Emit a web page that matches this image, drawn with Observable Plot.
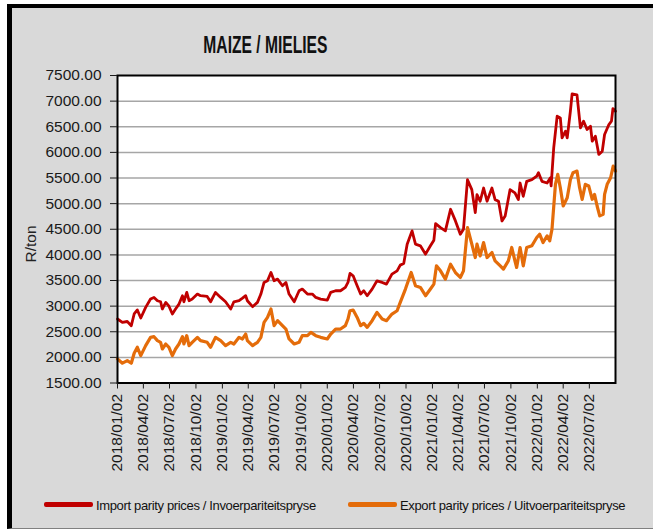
<!DOCTYPE html>
<html>
<head>
<meta charset="utf-8">
<script src="https://cdn.jsdelivr.net/npm/d3@7"></script>
<script src="https://cdn.jsdelivr.net/npm/@observablehq/plot@0.6"></script>
<style>
  html, body { margin: 0; padding: 0; background: #ffffff; }
  body { width: 653px; height: 531px; position: relative; overflow: hidden; font-family: 'Liberation Sans', Arial, sans-serif; }
  #bg { position: absolute; left: 7px; top: 4px; width: 646px; height: 525px; background: #d9d9d9;
        border-left: 5px solid #000; border-top: 4px solid #000; border-bottom: 1px solid #808080; box-sizing: border-box; }
  #chart { position: absolute; left: 0; top: 0; }
  #title { position: absolute; left: 0; top: 32.5px; width: 530px; text-align: center; line-height: 24px; }
  #title span { display: inline-block; font-weight: bold; font-size: 24px; color: #111; transform: scaleX(0.65); transform-origin: center; white-space: nowrap; }
  #ylabel { position: absolute; left: 31px; top: 244px; font-size: 15.5px; color: #222; transform: translate(-50%, -50%) rotate(-90deg); white-space: nowrap; }
  .leg-line { position: absolute; height: 5px; }
  .leg-text { position: absolute; font-size: 13px; line-height: 13px; color: #111; white-space: nowrap; letter-spacing: -0.35px; }
</style>
</head>
<body>
<div id="bg"></div>
<div id="chart"></div>
<div id="title"><span>MAIZE / MIELIES</span></div>
<div id="ylabel">R/ton</div>
<div id="legend"></div>
<script>
// ---- Data ----
const seriesNames = ["Import parity prices / Invoerpariteitspryse", "Export parity prices / Uitvoerpariteitspryse"];
const seriesColors = ["#c00000", "#e46c0a"];

const yTicks = [1500, 2000, 2500, 3000, 3500, 4000, 4500, 5000, 5500, 6000, 6500, 7000, 7500];
const gridValues = [2000, 2500, 3000, 3500, 4000, 4500, 5000, 5500, 6000, 6500, 7000];
const xTickLabels = ["2018/01/02","2018/04/02","2018/07/02","2018/10/02","2019/01/02","2019/04/02","2019/07/02",
  "2019/10/02","2020/01/02","2020/04/02","2020/07/02","2020/10/02","2021/01/02","2021/04/02","2021/07/02",
  "2021/10/02","2022/01/02","2022/04/02","2022/07/02"];
const xDomain = ["2018-01-02", "2022-10-01"];

const importDates = ["2018-01-02","2018-01-19","2018-02-05","2018-02-19","2018-03-01","2018-03-12","2018-03-24","2018-04-10",
  "2018-04-27","2018-05-09","2018-05-21","2018-06-01","2018-06-07","2018-06-19","2018-06-30","2018-07-12","2018-07-23",
  "2018-08-04","2018-08-16","2018-08-21","2018-08-31","2018-09-08","2018-09-19","2018-10-07","2018-10-18","2018-11-10",
  "2018-11-22","2018-12-09","2018-12-27","2019-01-13","2019-01-31","2019-02-11","2019-03-01","2019-03-13","2019-03-24",
  "2019-03-30","2019-04-17","2019-05-04","2019-05-16","2019-05-27","2019-06-08","2019-06-20","2019-07-01","2019-07-13",
  "2019-07-30","2019-08-11","2019-08-22","2019-09-09","2019-09-26","2019-10-07","2019-10-25","2019-11-11","2019-11-23",
  "2019-12-10","2020-01-02","2020-01-14","2020-01-31","2020-02-17","2020-03-05","2020-03-14","2020-03-21","2020-04-01",
  "2020-04-15","2020-04-27","2020-05-08","2020-05-20","2020-06-06","2020-06-23","2020-07-11","2020-07-26","2020-08-14",
  "2020-09-01","2020-09-12","2020-09-24","2020-10-06","2020-10-23","2020-11-04","2020-11-21","2020-12-09","2020-12-26",
  "2021-01-07","2021-01-13","2021-01-30","2021-02-16","2021-03-06","2021-03-23","2021-04-09","2021-04-20","2021-05-04",
  "2021-05-19","2021-05-31","2021-06-06","2021-06-17","2021-06-29","2021-07-11","2021-07-28","2021-08-08","2021-08-20",
  "2021-09-01","2021-09-12","2021-09-29","2021-10-16","2021-10-28","2021-11-03","2021-11-14","2021-11-26","2021-12-14",
  "2021-12-31","2022-01-06","2022-01-18","2022-02-05","2022-02-16","2022-02-19","2022-02-28","2022-03-12","2022-03-23",
  "2022-03-29","2022-04-10","2022-04-16","2022-04-27","2022-05-03","2022-05-20","2022-06-01","2022-06-12","2022-06-24",
  "2022-07-06","2022-07-12","2022-07-23","2022-08-04","2022-08-16","2022-08-24","2022-09-08","2022-09-17","2022-09-22",
  "2022-10-01"];
const importVals = [2749,2683,2700,2619,2847,2925,2769,2975,
  3138,3170,3105,3085,2944,3073,2998,2847,2944,
  3040,3203,3085,3267,3105,3138,3235,3203,3190,
  3085,3267,3170,3085,2944,3085,3105,3155,3203,
  3105,2989,3073,3235,3462,3494,3656,3494,3527,
  3397,3462,3235,3085,3300,3332,3235,3235,3170,
  3138,3118,3267,3300,3300,3365,3462,3637,3592,
  3397,3235,3300,3203,3332,3494,3462,3429,3624,
  3689,3800,3831,4209,4468,4209,4177,4014,4177,
  4287,4610,4533,4468,4890,4663,4403,4500,5467,
  5273,4824,5176,5046,5305,5046,5305,5078,5046,
  4662,4760,5273,5208,5078,5402,5143,5435,5467,
  5538,5603,5435,5402,5500,5348,6089,6706,6673,
  6283,6413,6283,6803,7140,7120,6478,6608,6445,
  6510,6218,6315,5960,6024,6348,6543,6608,6855,
  6803];

const exportDates = ["2018-01-02","2018-01-19","2018-02-05","2018-02-19","2018-03-01","2018-03-12","2018-03-24","2018-04-10",
  "2018-04-27","2018-05-09","2018-05-21","2018-06-01","2018-06-07","2018-06-19","2018-06-30","2018-07-12","2018-07-23",
  "2018-08-04","2018-08-16","2018-08-21","2018-08-31","2018-09-08","2018-09-19","2018-10-07","2018-10-18","2018-11-10",
  "2018-11-22","2018-12-09","2018-12-27","2019-01-13","2019-01-31","2019-02-11","2019-03-01","2019-03-13","2019-03-24",
  "2019-03-30","2019-04-17","2019-05-04","2019-05-16","2019-05-27","2019-06-08","2019-06-20","2019-07-01","2019-07-13",
  "2019-07-30","2019-08-11","2019-08-22","2019-09-09","2019-09-26","2019-10-07","2019-10-25","2019-11-06","2019-11-23",
  "2019-12-10","2020-01-02","2020-01-14","2020-01-31","2020-02-17","2020-03-05","2020-03-14","2020-03-21","2020-04-01",
  "2020-04-15","2020-04-27","2020-05-08","2020-05-20","2020-06-06","2020-06-23","2020-07-11","2020-07-26","2020-08-14",
  "2020-09-01","2020-09-12","2020-09-30","2020-10-20","2020-11-04","2020-11-21","2020-12-09","2020-12-26","2021-01-07",
  "2021-01-16","2021-01-30","2021-02-16","2021-03-06","2021-03-23","2021-04-09","2021-04-20","2021-05-04","2021-05-19",
  "2021-05-31","2021-06-06","2021-06-17","2021-06-29","2021-07-11","2021-07-28","2021-08-08","2021-08-26","2021-09-06",
  "2021-09-23","2021-10-05","2021-10-16","2021-10-22","2021-11-03","2021-11-14","2021-11-26","2021-12-14","2021-12-31",
  "2022-01-10","2022-01-22","2022-02-05","2022-02-14","2022-02-22","2022-03-06","2022-03-14","2022-03-23","2022-04-02",
  "2022-04-16","2022-04-27","2022-05-06","2022-05-20","2022-05-29","2022-06-07","2022-06-18","2022-06-30","2022-07-12",
  "2022-07-20","2022-07-29","2022-08-07","2022-08-19","2022-08-24","2022-09-02","2022-09-14","2022-09-23","2022-10-01"];
const exportVals = [1971,1886,1938,1886,2080,2197,2035,2229,
  2391,2404,2326,2294,2164,2261,2197,2035,2164,
  2261,2404,2261,2424,2229,2294,2391,2326,2294,
  2197,2391,2326,2229,2294,2261,2391,2359,2456,
  2326,2229,2294,2391,2683,2780,2944,2619,2716,
  2619,2553,2359,2261,2294,2424,2424,2488,2424,
  2391,2359,2456,2553,2553,2619,2748,2910,2924,
  2780,2619,2664,2586,2716,2878,2748,2716,2845,
  2910,3072,3333,3656,3397,3365,3203,3333,3429,
  3786,3689,3527,3818,3656,3559,3689,4532,4209,
  3948,4209,3981,4241,3948,4046,3883,3786,3721,
  3883,4144,3883,3754,4144,3786,4144,4177,4339,
  4403,4241,4371,4274,4500,5376,5570,5311,4954,
  5116,5467,5603,5635,5311,5084,5376,5343,5084,
  5181,4954,4760,4792,5181,5376,5505,5732,5635];

// ---- Build ----
const parse = d3.utcParse("%Y-%m-%d");
const parseTick = d3.utcParse("%Y/%m/%d");
const fmtTick = d3.utcFormat("%Y/%m/%d");
const imp = importDates.map((d, i) => ({date: parse(d), value: importVals[i]}));
const exp = exportDates.map((d, i) => ({date: parse(d), value: exportVals[i]}));
const xTickDates = xTickLabels.map(parseTick);

const chart = Plot.plot({
  width: 653,
  height: 482,
  marginLeft: 117,
  marginRight: 38,
  marginTop: 75,
  marginBottom: 99.5,
  style: {background: "transparent", fontFamily: "'Liberation Sans', Arial, sans-serif", fontSize: "15.5px", color: "#1a1a1a", overflow: "visible"},
  x: {type: "utc", domain: xDomain.map(parse)},
  y: {domain: [yTicks[0], yTicks[yTicks.length - 1]]},
  marks: [
    Plot.frame({fill: "#ffffff", stroke: null}),
    Plot.ruleY(gridValues, {stroke: "#a6a6a6", strokeWidth: 1.5}),
    Plot.line(exp, {x: "date", y: "value", stroke: seriesColors[1], strokeWidth: 3.2, strokeLinejoin: "round"}),
    Plot.line(imp, {x: "date", y: "value", stroke: seriesColors[0], strokeWidth: 2.8, strokeLinejoin: "round"}),
    Plot.frame({stroke: "#000000", strokeWidth: 2}),
    Plot.axisY({ticks: yTicks, tickFormat: d => d.toFixed(2), tickSize: 7, tickPadding: 9, label: null}),
    Plot.axisX({ticks: xTickDates, tickFormat: fmtTick, tickRotate: -90, tickSize: 6, tickPadding: 5, label: null})
  ]
});
document.getElementById("chart").appendChild(chart);

// ---- Legend ----
const legend = document.getElementById("legend");
const legendItems = [
  {lineLeft: 44, lineWidth: 49, textLeft: 96},
  {lineLeft: 348, lineWidth: 49, textLeft: 400}
];
legendItems.forEach((it, i) => {
  const ln = document.createElement("div");
  ln.className = "leg-line";
  ln.style.left = it.lineLeft + "px";
  ln.style.width = it.lineWidth + "px";
  ln.style.top = "502px";
  ln.style.background = seriesColors[i];
  ln.style.borderRadius = "2px";
  legend.appendChild(ln);
  const tx = document.createElement("div");
  tx.className = "leg-text";
  tx.style.left = it.textLeft + "px";
  tx.style.top = "498.5px";
  tx.textContent = seriesNames[i];
  legend.appendChild(tx);
});
</script>
</body>
</html>
